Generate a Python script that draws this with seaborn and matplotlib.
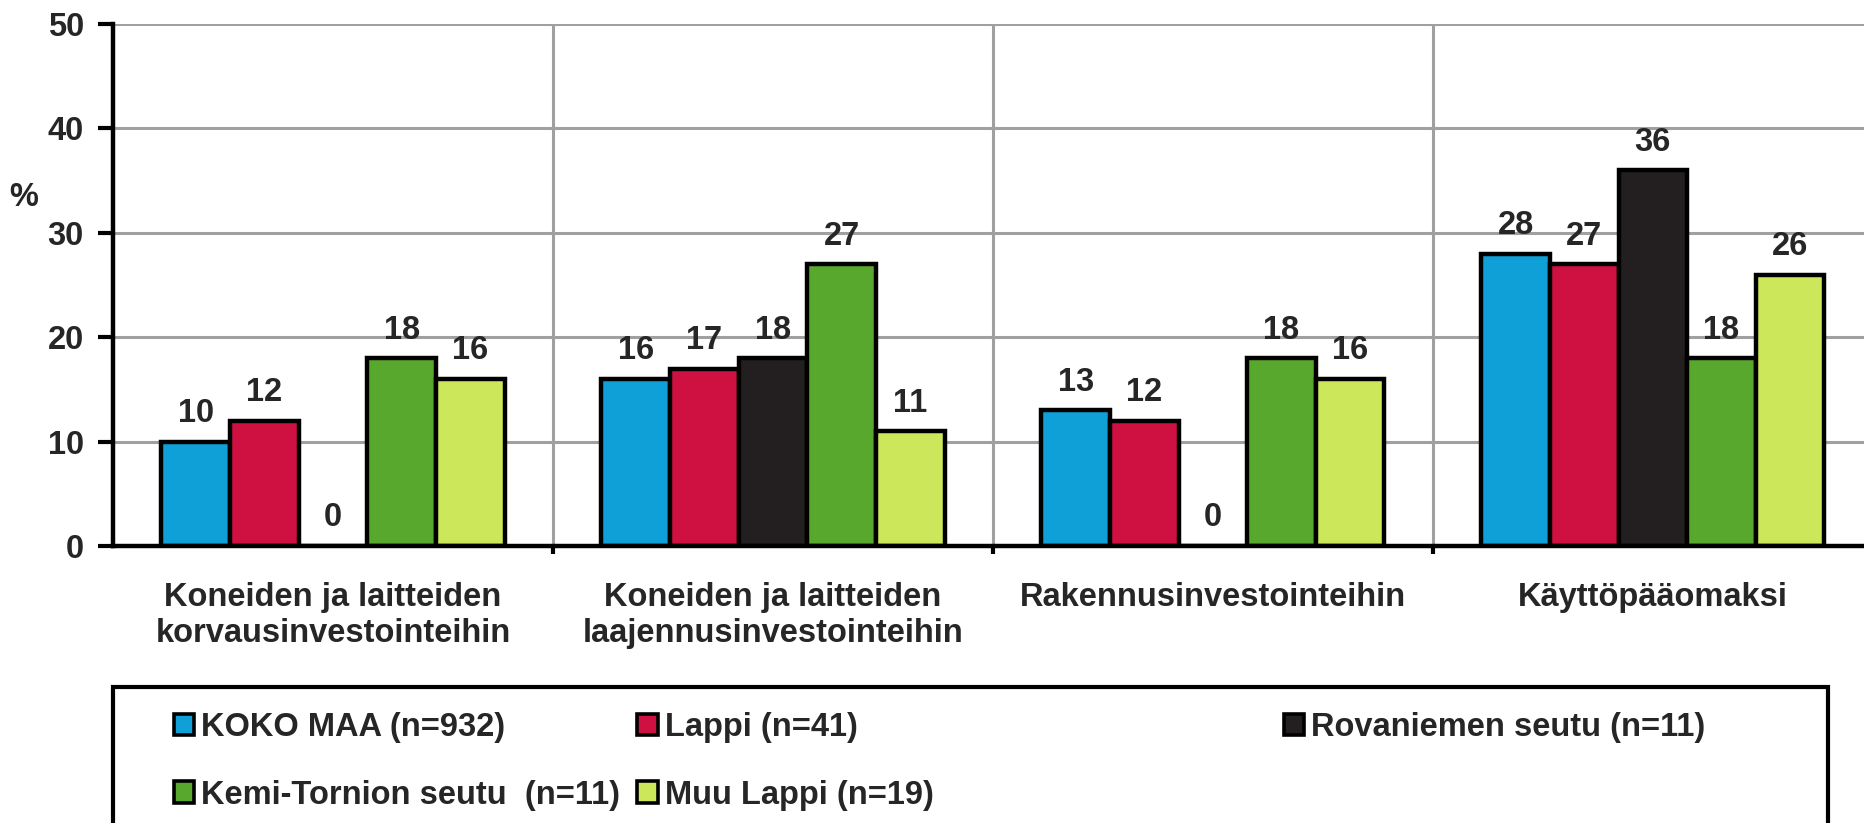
import numpy as np
import pandas as pd
import seaborn as sns
import matplotlib.pyplot as plt
from matplotlib.patches import Patch, Rectangle
from matplotlib.ticker import FixedLocator

# data
kategoriat = ['Koneiden ja laitteiden\nkorvausinvestointeihin',
              'Koneiden ja laitteiden\nlaajennusinvestointeihin',
              'Rakennusinvestointeihin',
              'Käyttöpääomaksi']
alueet = ['KOKO MAA (n=932)', 'Lappi (n=41)', 'Rovaniemen seutu (n=11)',
          'Kemi-Tornion seutu  (n=11)', 'Muu Lappi (n=19)']
koko_maa = [10, 16, 13, 28]
lappi = [12, 17, 12, 27]
rovaniemi = [0, 18, 0, 36]
kemi_tornio = [18, 27, 18, 18]
muu_lappi = [16, 11, 16, 26]
varit = ['#10A0D8', '#CE1141', '#231F20', '#58A82E', '#CCE85A']
y_ticks = [0, 10, 20, 30, 40, 50]

rows = []
for alue, arvot in zip(alueet, [koko_maa, lappi, rovaniemi, kemi_tornio, muu_lappi]):
    for kat, v in zip(kategoriat, arvot):
        rows.append({'kategoria': kat, 'alue': alue, 'arvo': v})
df = pd.DataFrame(rows)

sns.set_style('white')
plt.rcParams['font.family'] = ['Liberation Sans', 'DejaVu Sans']
plt.rcParams['font.weight'] = 'bold'
FS = 23.5

W, H = 1864, 823
fig = plt.figure(figsize=(W / 100, H / 100), dpi=100)
ax = fig.add_axes([113 / W, (H - 546) / H, 1751 / W, (546 - 24) / H])

sns.barplot(data=df, x='kategoria', y='arvo', hue='alue', order=kategoriat,
            hue_order=alueet, palette=varit, saturation=1, width=0.78,
            edgecolor='black', linewidth=3.2, errorbar=None, legend=False, ax=ax)

for cont in ax.containers:
    ax.bar_label(cont, fmt='%.0f', padding=9, fontsize=FS, fontweight='bold')

ax.set_xlim(-0.5, 3.48)
ax.set_ylim(0, 50)
ax.set_yticks(y_ticks)
ax.set_yticklabels([str(t) for t in y_ticks], fontsize=FS, fontweight='bold')
ax.xaxis.set_minor_locator(FixedLocator([0.5, 1.5, 2.5]))
ax.tick_params(axis='x', which='major', length=0, pad=26, labelsize=FS)
ax.tick_params(axis='x', which='minor', length=6, width=3, color='black', direction='out', bottom=True)
ax.tick_params(axis='y', length=11, width=3, color='black', direction='out', left=True, pad=10)
for lab in ax.get_xticklabels():
    lab.set_fontweight('bold')
    lab.set_linespacing(1.2)

ax.set_axisbelow(True)
ax.grid(axis='y', which='major', color='#A0A0A0', linewidth=2.2)
ax.grid(axis='x', which='minor', color='#A0A0A0', linewidth=2.2)
ax.grid(axis='x', which='major', visible=False)

for side in ['top', 'right']:
    ax.spines[side].set_visible(False)
for side in ['left', 'bottom']:
    ax.spines[side].set_color('black')
    ax.spines[side].set_linewidth(3.2)

ax.set_xlabel('')
ax.set_ylabel('%', rotation=0, fontsize=FS, fontweight='bold', va='center', ha='center')
ax.yaxis.set_label_coords((24 - 113) / 1751, (546 - 198) / 522)

# legend frame, cut off by the bottom edge
fig.add_artist(Rectangle((113 / W, -0.1), (1828 - 113) / W, 0.1 + (H - 687) / H,
                         transform=fig.transFigure, fill=False, edgecolor='black',
                         linewidth=3, clip_on=False))

handles = [Patch(facecolor=c, edgecolor='black', linewidth=2.6, label=a)
           for a, c in zip(alueet, varit)]
leg_kw = dict(frameon=False, fontsize=FS, handlelength=0.62, handleheight=0.62,
              handletextpad=0.22, labelspacing=1.12, borderaxespad=0, borderpad=0)
leg1 = fig.legend(handles=[handles[0], handles[3], handles[1], handles[4]], ncol=2,
                  loc='upper left', bbox_to_anchor=(174 / W, (H - 712) / H),
                  columnspacing=0.52, **leg_kw)
leg2 = fig.legend(handles=[handles[2]], loc='upper left',
                  bbox_to_anchor=(1284 / W, (H - 712) / H), **leg_kw)
for leg in (leg1, leg2):
    for t in leg.get_texts():
        t.set_fontweight('bold')

fig.savefig('out.png', dpi=100)
